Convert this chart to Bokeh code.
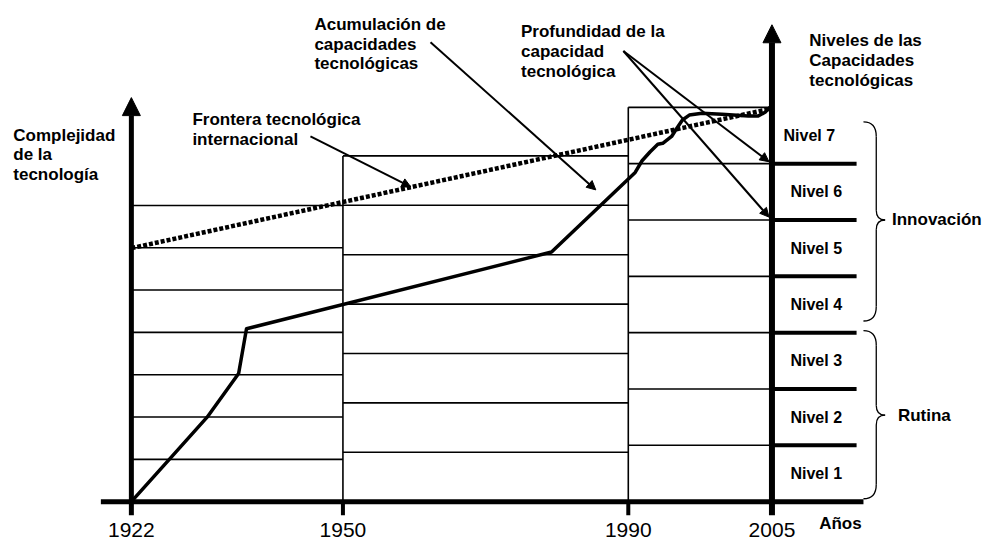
from bokeh.plotting import figure
from bokeh.models import Range1d, Arrow, NormalHead
from bokeh.core.properties import value
from bokeh.embed import file_html
from bokeh.resources import INLINE

# ---------------- data (diagram units: x = position along time axis, y = complexity height) -------------
year_labels = ["1922", "1950", "1990", "2005"]
year_pos = [133, 348, 638, 784]          # the time axis of the sketch is not linear in years
block_tops = [305, 356, 406]             # height of each period block (7 complexity rows each)
n_levels = 7
level_names = ["Nivel 1", "Nivel 2", "Nivel 3", "Nivel 4", "Nivel 5", "Nivel 6", "Nivel 7"]
level_step = 58                          # height of one capability level on the right-hand scale

# international technological frontier (dotted)
frontier_x = [133, 780]
frontier_y = [261, 404]

# accumulation of technological capabilities (thick curve)
capab_x = [133, 172, 210, 242, 250, 560, 645, 652, 660, 668, 673, 682, 687, 693, 700, 713, 733, 760, 770, 777, 782]
capab_y = [0, 44, 87, 132, 178, 257, 339, 351, 360, 368, 369, 376, 384, 393, 398, 400, 399, 397, 397, 401, 406]

# groups of levels: (label, bottom, tip, top)
groups = [("Innovación", 186, 290, 391), ("Rutina", 3, 89, 176)]

# ---------------- figure ----------------
p = figure(width=984, height=540, x_range=Range1d(0, 1000), y_range=Range1d(-40, 516),
           output_backend="svg", toolbar_location=None, min_border=0,
           x_axis_type=None, y_axis_type=None)
p.grid.visible = False
p.outline_line_color = None
p.background_fill_color = "white"

BLACK = "black"
FONT = value("Liberation Sans")
LBL = "17px"

# period blocks with their 7 rows
hx0, hx1, hy = [], [], []
vx, vy0, vy1 = [], [], []
for i, top in enumerate(block_tops):
    x0, x1 = year_pos[i], year_pos[i + 1]
    for k in range(1, n_levels + 1):
        hx0.append(x0); hx1.append(x1); hy.append(top * k / n_levels)
    if i > 0:
        vx.append(x0); vy0.append(0); vy1.append(top)
p.segment(x0=hx0, y0=hy, x1=hx1, y1=hy, line_color=BLACK, line_width=1.6)
p.segment(x0=vx, y0=vy0, x1=vx, y1=vy1, line_color=BLACK, line_width=1.6)

# right-hand level separators
lv = [level_step * k for k in range(1, n_levels)]
p.segment(x0=[year_pos[3]] * len(lv), y0=lv, x1=[870] * len(lv), y1=lv, line_color=BLACK, line_width=4)

# axes
p.segment(x0=[102], y0=[0], x1=[877], y1=[0], line_color=BLACK, line_width=5)
p.segment(x0=year_pos[1:3], y0=[-14, -14], x1=year_pos[1:3], y1=[0, 0], line_color=BLACK, line_width=4)
p.add_layout(Arrow(end=NormalHead(size=18, fill_color=BLACK, line_color=BLACK),
                   x_start=year_pos[0], y_start=-14, x_end=year_pos[0], y_end=416,
                   line_width=5, line_color=BLACK))
p.add_layout(Arrow(end=NormalHead(size=18, fill_color=BLACK, line_color=BLACK),
                   x_start=year_pos[3], y_start=-14, x_end=year_pos[3], y_end=491,
                   line_width=6, line_color=BLACK))

# frontier and capability curve
p.line(frontier_x, frontier_y, line_color=BLACK, line_width=4.5, line_dash="4 2")
p.line(capab_x, capab_y, line_color=BLACK, line_width=3.5, line_join="round")

# pointer arrows
pointers = [((315, 376), (417, 324)), ((437, 473), (605, 321)),
            ((633, 464), (781, 350)), ((633, 464), (781, 293))]
for (xs, ys), (xe, ye) in pointers:
    p.add_layout(Arrow(end=NormalHead(size=9, fill_color=BLACK, line_color=BLACK),
                       x_start=xs, y_start=ys, x_end=xe, y_end=ye,
                       line_width=2, line_color=BLACK))

# braces
for name, yb, ym, yt in groups:
    x0, x1, x2 = 877, 890, 899
    p.quadratic(x0=[x0, x1, x2, x1], y0=[yt, ym + 10, ym, yb + 15],
                x1=[x1, x2, x1, x0], y1=[yt - 15, ym, ym - 10, yb],
                cx=[x1, x1, x1, x1], cy=[yt, ym, ym, yb],
                line_color=BLACK, line_width=1.3)
    p.segment(x0=[x1, x1], y0=[yt - 15, ym - 10], x1=[x1, x1], y1=[ym + 10, yb + 15],
              line_color=BLACK, line_width=1.3)
    p.text(x=[906 if name == "Innovación" else 912], y=[ym], text=[name], text_font=FONT,
           text_font_style="bold", text_font_size=LBL, text_baseline="middle",
           text_align="left", text_color=BLACK)

# level labels
p.text(x=[829] * 6 + [822], y=[level_step * k - level_step / 2 for k in range(1, n_levels + 1)],
       text=level_names, text_font=FONT, text_font_style="bold", text_font_size="16px",
       text_baseline="middle", text_align="center", text_color=BLACK)

# year labels
p.text(x=year_pos, y=[-29] * 4, text=year_labels, text_font=FONT, text_font_size="21px",
       text_baseline="middle", text_align="center", text_color=BLACK)
p.text(x=[832], y=[-22], text=["Años"], text_font=FONT, text_font_style="bold",
       text_font_size=LBL, text_baseline="middle", text_align="left", text_color=BLACK)

# annotation texts (left x, first baseline, line pitch)
notes = [
    (["Complejidad", "de la", "tecnología"], 13, 377, 20),
    (["Frontera tecnológica", "internacional"], 195, 393, 20),
    (["Acumulación de", "capacidades", "tecnológicas"], 319, 491, 20),
    (["Profundidad de la", "capacidad", "tecnológica"], 529, 484, 20.5),
    (["Niveles de las", "Capacidades", "tecnológicas"], 822, 475, 20.5),
]
for lines, x, y, pitch in notes:
    p.text(x=[x] * len(lines), y=[y - pitch * i for i in range(len(lines))], text=lines,
           text_font=FONT, text_font_style="bold", text_font_size=LBL,
           text_baseline="alphabetic", text_align="left", text_color=BLACK)

open("out.html", "w").write(file_html(p, INLINE))
